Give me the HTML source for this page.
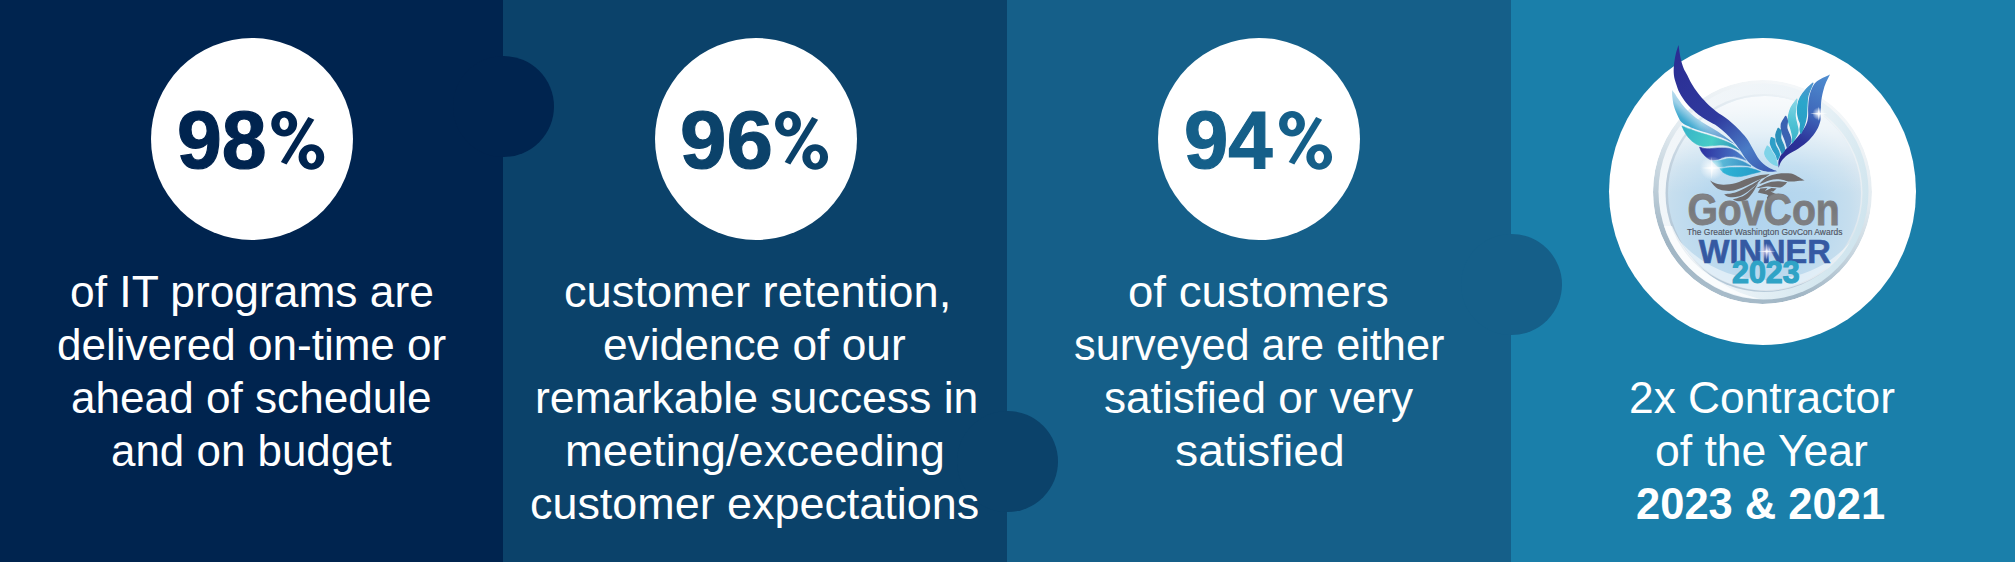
<!DOCTYPE html>
<html lang="en">
<head>
<meta charset="utf-8">
<title>Performance stats</title>
<style>
html,body{margin:0;padding:0;}
body{width:2015px;height:562px;overflow:hidden;position:relative;background:#1a7faa;font-family:"Liberation Sans",sans-serif;}
.panel{position:absolute;top:0;height:562px;}
.p1{left:0;width:503px;background:#00244f;}
.p2{left:503px;width:504px;background:#0b426a;}
.p3{left:1007px;width:503.5px;background:#155f89;}
.p4{left:1510.5px;width:504.5px;background:#1a7faa;}
.tab{position:absolute;width:101px;height:101px;border-radius:50%;}
.t1{left:453px;top:56px;background:#00244f;}
.t2{left:957px;top:411px;background:#0b426a;}
.t3{left:1460.5px;top:233.5px;background:#155f89;}
.disc{position:absolute;background:#fff;border-radius:50%;}
.d1{left:150.9px;top:37.6px;width:202px;height:202px;}
.d2{left:654.5px;top:37.6px;width:202px;height:202px;}
.d3{left:1158px;top:37.6px;width:202px;height:202px;}
.d4{left:1608.9px;top:37.8px;width:307.2px;height:307.2px;}
.pct{position:absolute;font-weight:bold;-webkit-text-stroke:1.2px;font-size:81px;line-height:81px;white-space:nowrap;transform-origin:0 0;}
.ln{position:absolute;color:#fff;font-size:44px;line-height:44px;white-space:nowrap;transform-origin:0 0;}
.ln.b{font-weight:bold;}
</style>
</head>
<body>
<div class="panel p1"></div>
<div class="panel p2"></div>
<div class="panel p3"></div>
<div class="panel p4"></div>
<div class="tab t1"></div>
<div class="tab t2"></div>
<div class="tab t3"></div>
<div class="disc d1"></div>
<div class="disc d2"></div>
<div class="disc d3"></div>
<div class="disc d4"></div>
<div class="pct" id="pct0" style="left:176.81px;top:99.05px;color:#00244f;transform:scale(0.9947,1.0100)">98</div>
<div class="pct" id="pct1" style="left:679.73px;top:99.05px;color:#0b426a;transform:scale(1.0298,1.0100)">96</div>
<div class="pct" id="pct2" style="left:1183.83px;top:99.05px;color:#155f89;transform:scale(0.9830,1.0100)">94</div>
<div class="ln" id="ln0" style="left:70.08px;top:270.00px;transform:scaleX(1.0079)">of IT programs are</div>
<div class="ln" id="ln1" style="left:56.78px;top:323.00px;transform:scaleX(1.0011)">delivered on-time or</div>
<div class="ln" id="ln2" style="left:71.49px;top:376.00px;transform:scaleX(1.0028)">ahead of schedule</div>
<div class="ln" id="ln3" style="left:111.40px;top:429.00px;transform:scaleX(0.9979)">and on budget</div>
<div class="ln" id="ln4" style="left:564.04px;top:270.00px;transform:scaleX(1.0281)">customer retention,</div>
<div class="ln" id="ln5" style="left:603.29px;top:323.00px;transform:scaleX(1.0061)">evidence of our</div>
<div class="ln" id="ln6" style="left:534.55px;top:376.00px;transform:scaleX(1.0130)">remarkable success in</div>
<div class="ln" id="ln7" style="left:564.50px;top:429.00px;transform:scaleX(1.0287)">meeting/exceeding</div>
<div class="ln" id="ln8" style="left:530.45px;top:482.00px;transform:scaleX(1.0202)">customer expectations</div>
<div class="ln" id="ln9" style="left:1127.70px;top:270.00px;transform:scaleX(1.0349)">of customers</div>
<div class="ln" id="ln10" style="left:1073.62px;top:323.00px;transform:scaleX(0.9834)">surveyed are either</div>
<div class="ln" id="ln11" style="left:1103.69px;top:376.00px;transform:scaleX(1.0033)">satisfied or very</div>
<div class="ln" id="ln12" style="left:1174.99px;top:429.00px;transform:scaleX(1.0514)">satisfied</div>
<div class="ln" id="ln13" style="left:1628.98px;top:376.00px;transform:scaleX(1.0069)">2x Contractor</div>
<div class="ln" id="ln14" style="left:1655.27px;top:429.00px;transform:scaleX(1.0116)">of the Year</div>
<div class="ln b" id="ln15" style="left:1636.23px;top:482.00px;transform:scaleX(0.9887)">2023 &amp; 2021</div>
<svg style="position:absolute;left:0;top:0;overflow:visible" width="2015" height="562" viewBox="0 0 2015 562">
<defs>
<g id="pc">
<path fill-rule="evenodd" d="M13 0 A12.95 12.75 0 1 0 13 25.5 A12.95 12.75 0 1 0 13 0 Z M13 6.5 A4.65 6.25 0 1 1 13 19 A4.65 6.25 0 1 1 13 6.5 Z"/>
<path fill-rule="evenodd" d="M40.2 33.2 A12.85 12.8 0 1 0 40.2 58.8 A12.85 12.8 0 1 0 40.2 33.2 Z M40.2 39.7 A4.8 6.35 0 1 1 40.2 52.4 A4.8 6.35 0 1 1 40.2 39.7 Z"/>
<path d="M37.1 6.1 L43.1 8.7 L15.3 53.5 L9.7 51 Z"/>
</g>
</defs>
<use href="#pc" x="271.2" y="111" fill="#00244f"/>
<use href="#pc" x="775.0" y="111" fill="#0b426a"/>
<use href="#pc" x="1279.0" y="111" fill="#155f89"/>
</svg>
<svg class="logo" viewBox="1600 30 330 340" width="330" height="340" style="position:absolute;left:1600px;top:30px;overflow:visible">
<defs>
<clipPath id="bclip"><ellipse cx="1762.5" cy="192" rx="109.5" ry="112"/></clipPath>
<linearGradient id="rim1" gradientUnits="userSpaceOnUse" x1="1805" y1="95" x2="1720" y2="300">
<stop offset="0" stop-color="#f4f7f9"/>
<stop offset="0.35" stop-color="#e3ebf0"/>
<stop offset="0.6" stop-color="#c4d3dd"/>
<stop offset="0.85" stop-color="#a0b5c4"/>
<stop offset="1" stop-color="#a9bdcb"/>
</linearGradient>
<linearGradient id="band" gradientUnits="userSpaceOnUse" x1="1660" y1="150" x2="1870" y2="235">
<stop offset="0" stop-color="#f2f6f9"/>
<stop offset="0.5" stop-color="#eef4f8"/>
<stop offset="0.85" stop-color="#d6e8f0"/>
<stop offset="1" stop-color="#cde3ed"/>
</linearGradient>
<linearGradient id="rim2" gradientUnits="userSpaceOnUse" x1="1835" y1="105" x2="1690" y2="285">
<stop offset="0" stop-color="#f1f5f8"/>
<stop offset="0.4" stop-color="#dde7ee"/>
<stop offset="0.7" stop-color="#bccddb"/>
<stop offset="1" stop-color="#b2c7d7"/>
</linearGradient>
<radialGradient id="bub" cx="0.48" cy="0.6" r="0.55">
<stop offset="0" stop-color="#b1d4ee"/>
<stop offset="0.55" stop-color="#b8d8ee"/>
<stop offset="0.85" stop-color="#c6deee"/>
<stop offset="1" stop-color="#d2e3ef"/>
</radialGradient>
<linearGradient id="topfade" gradientUnits="userSpaceOnUse" x1="1763" y1="96" x2="1763" y2="290">
<stop offset="0" stop-color="#fff" stop-opacity="0.85"/>
<stop offset="0.18" stop-color="#fff" stop-opacity="0.6"/>
<stop offset="0.36" stop-color="#fff" stop-opacity="0.18"/>
<stop offset="0.5" stop-color="#fff" stop-opacity="0"/>
</linearGradient>
<linearGradient id="lw1" gradientUnits="userSpaceOnUse" x1="1678" y1="50" x2="1775" y2="170">
<stop offset="0" stop-color="#2b2d93"/>
<stop offset="0.5" stop-color="#2f3a9e"/>
<stop offset="0.78" stop-color="#4a7cc6"/>
<stop offset="1" stop-color="#3a58b0"/>
</linearGradient>
<linearGradient id="lw2" gradientUnits="userSpaceOnUse" x1="1703" y1="114" x2="1688" y2="132">
<stop offset="0" stop-color="#c2e0f0"/>
<stop offset="0.35" stop-color="#9dd0e8"/>
<stop offset="0.7" stop-color="#49add2"/>
<stop offset="1" stop-color="#239cc6"/>
</linearGradient>
<linearGradient id="lw2b" gradientUnits="userSpaceOnUse" x1="1700" y1="125" x2="1736" y2="146">
<stop offset="0" stop-color="#3f7cc2" stop-opacity="0"/>
<stop offset="1" stop-color="#3f7cc2" stop-opacity="1"/>
</linearGradient>
<linearGradient id="lw3" gradientUnits="userSpaceOnUse" x1="1682" y1="126" x2="1744" y2="152">
<stop offset="0" stop-color="#35b2c8"/>
<stop offset="0.5" stop-color="#48cdc6"/>
<stop offset="1" stop-color="#2a82b6"/>
</linearGradient>
<linearGradient id="lw4" gradientUnits="userSpaceOnUse" x1="1700" y1="150" x2="1748" y2="160">
<stop offset="0" stop-color="#2c30a0"/>
<stop offset="0.45" stop-color="#3c56b4"/>
<stop offset="1" stop-color="#4f8cd0"/>
</linearGradient>
<linearGradient id="lw5" gradientUnits="userSpaceOnUse" x1="1713" y1="163" x2="1754" y2="167">
<stop offset="0" stop-color="#66c6de"/>
<stop offset="1" stop-color="#3088c2"/>
</linearGradient>
<linearGradient id="lw6" gradientUnits="userSpaceOnUse" x1="1721" y1="170" x2="1765" y2="173">
<stop offset="0" stop-color="#2fb4d6"/>
<stop offset="1" stop-color="#2498c6"/>
</linearGradient>
<linearGradient id="rwband" gradientUnits="userSpaceOnUse" x1="1826" y1="76" x2="1782" y2="165">
<stop offset="0" stop-color="#4f8ccf"/>
<stop offset="0.4" stop-color="#3f68ba"/>
<stop offset="0.7" stop-color="#2c3299"/>
<stop offset="1" stop-color="#2a2a90"/>
</linearGradient>
<linearGradient id="rf" gradientUnits="userSpaceOnUse" x1="1812" y1="84" x2="1800" y2="132">
<stop offset="0" stop-color="#4f92cf"/>
<stop offset="0.4" stop-color="#2ba6cb"/>
<stop offset="1" stop-color="#2a9cc4"/>
</linearGradient>
<linearGradient id="re" gradientUnits="userSpaceOnUse" x1="1796" y1="100" x2="1792" y2="142">
<stop offset="0" stop-color="#8ad6e6"/>
<stop offset="0.5" stop-color="#52c4d6"/>
<stop offset="1" stop-color="#37b2c8"/>
</linearGradient>
<radialGradient id="spk2">
<stop offset="0" stop-color="#fff" stop-opacity="0.95"/>
<stop offset="0.35" stop-color="#d9d2f2" stop-opacity="0.6"/>
<stop offset="1" stop-color="#b8b0e8" stop-opacity="0"/>
</radialGradient>
<radialGradient id="spk">
<stop offset="0" stop-color="#fff" stop-opacity="1"/>
<stop offset="0.4" stop-color="#fff" stop-opacity="0.6"/>
<stop offset="1" stop-color="#fff" stop-opacity="0"/>
</radialGradient>
<linearGradient id="gtxt" x1="0" y1="0" x2="0" y2="1">
<stop offset="0" stop-color="#8a8b8e"/>
<stop offset="0.5" stop-color="#77787b"/>
<stop offset="1" stop-color="#858689"/>
</linearGradient>
</defs>
<!-- bubble -->
<g clip-path="url(#bclip)">
<ellipse cx="1762.5" cy="192" rx="109.5" ry="112" fill="url(#rim1)"/>
<ellipse cx="1763.5" cy="191.5" rx="105" ry="108" fill="url(#band)"/>
<ellipse cx="1764" cy="193" rx="98.5" ry="99" fill="url(#rim2)"/>
<ellipse cx="1764.5" cy="193" rx="96.5" ry="97" fill="url(#bub)"/>
<ellipse cx="1764.5" cy="193" rx="96.5" ry="97" fill="url(#topfade)"/>
<path d="M1679 240 C1694 270 1728 290 1766 291 C1800 290 1834 272 1850 242 C1830 266 1800 279 1766 280 C1732 279 1702 266 1679 240 Z" fill="#fff" opacity="0.5"/>
<path d="M1664 226 C1676 266 1714 296 1760 299 C1722 290 1690 266 1672 226 Z" fill="#fff" opacity="0.7"/>
</g>
<!-- left wing -->
<path d="M1678.5 45.0 C1678.9 47.2 1679.9 54.7 1680.7 58.5 C1681.5 62.3 1682.4 65.2 1683.5 68.0 C1684.6 70.8 1685.9 72.4 1687.2 75.0 C1688.5 77.6 1689.7 80.5 1691.5 83.5 C1693.3 86.5 1695.4 89.9 1697.9 93.1 C1700.4 96.3 1703.4 99.8 1706.4 102.8 C1709.4 105.8 1712.3 108.4 1716.0 111.3 C1719.7 114.2 1724.9 117.1 1728.5 120.0 C1732.1 122.9 1734.8 125.5 1737.8 128.5 C1740.8 131.5 1743.9 134.7 1746.4 138.1 C1748.9 141.5 1750.7 145.2 1752.8 148.8 C1754.9 152.4 1756.7 156.5 1759.2 159.5 C1761.7 162.5 1764.7 165.0 1767.7 167.0 C1770.8 169.0 1775.9 170.6 1777.5 171.3 C1776.2 171.4 1772.5 172.0 1769.8 171.8 C1767.1 171.6 1764.1 171.2 1761.3 170.2 C1758.5 169.2 1755.3 167.7 1752.8 165.9 C1750.3 164.1 1748.6 162.2 1746.4 159.5 C1744.2 156.8 1742.2 153.1 1739.9 149.9 C1737.6 146.7 1734.8 143.0 1732.5 140.3 C1730.2 137.6 1728.5 135.8 1726.0 133.5 C1723.5 131.2 1720.8 128.6 1717.7 126.4 C1714.6 124.2 1711.0 122.8 1707.3 120.5 C1703.6 118.2 1699.3 115.4 1695.8 112.4 C1692.3 109.5 1688.8 106.0 1686.1 102.8 C1683.4 99.6 1681.4 96.3 1679.7 93.1 C1678.0 89.9 1677.0 86.5 1676.0 83.5 C1675.0 80.5 1674.2 78.0 1673.9 75.0 C1673.6 72.0 1673.6 69.1 1673.9 65.6 C1674.2 62.1 1674.9 57.6 1675.7 54.2 C1676.5 50.8 1678.0 46.5 1678.5 45.0 Z" fill="url(#lw1)"/>
<path d="M1672.1 89.9 C1672.5 90.4 1673.3 91.5 1674.4 93.1 C1675.5 94.7 1676.9 97.1 1678.7 99.6 C1680.5 102.1 1682.6 105.3 1685.1 108.1 C1687.6 110.8 1690.4 113.5 1693.6 116.1 C1696.8 118.7 1700.6 121.2 1704.3 123.6 C1708.0 126.0 1712.5 128.3 1716.0 130.5 C1719.5 132.7 1722.2 134.7 1725.5 137.0 C1728.8 139.3 1733.8 143.3 1735.5 144.6 C1733.4 143.5 1726.8 139.8 1723.0 138.1 C1719.2 136.4 1716.0 135.6 1712.4 134.4 C1708.9 133.2 1705.3 132.3 1701.7 131.2 C1698.1 130.0 1694.3 128.9 1691.0 127.5 C1687.7 126.1 1684.1 124.6 1681.9 122.6 C1679.7 120.6 1678.9 118.4 1677.6 115.6 C1676.3 112.8 1674.8 109.2 1673.9 106.0 C1673.0 102.8 1672.6 99.1 1672.3 96.4 C1672.0 93.7 1672.1 91.0 1672.1 89.9 Z" fill="url(#lw2)"/>
<path d="M1672.1 89.9 C1672.5 90.4 1673.3 91.5 1674.4 93.1 C1675.5 94.7 1676.9 97.1 1678.7 99.6 C1680.5 102.1 1682.6 105.3 1685.1 108.1 C1687.6 110.8 1690.4 113.5 1693.6 116.1 C1696.8 118.7 1700.6 121.2 1704.3 123.6 C1708.0 126.0 1712.5 128.3 1716.0 130.5 C1719.5 132.7 1722.2 134.7 1725.5 137.0 C1728.8 139.3 1733.8 143.3 1735.5 144.6 C1733.4 143.5 1726.8 139.8 1723.0 138.1 C1719.2 136.4 1716.0 135.6 1712.4 134.4 C1708.9 133.2 1705.3 132.3 1701.7 131.2 C1698.1 130.0 1694.3 128.9 1691.0 127.5 C1687.7 126.1 1684.1 124.6 1681.9 122.6 C1679.7 120.6 1678.9 118.4 1677.6 115.6 C1676.3 112.8 1674.8 109.2 1673.9 106.0 C1673.0 102.8 1672.6 99.1 1672.3 96.4 C1672.0 93.7 1672.1 91.0 1672.1 89.9 Z" fill="url(#lw2b)"/>
<path d="M1681.9 125.9 C1683.4 126.5 1687.7 128.4 1691.0 129.6 C1694.3 130.8 1698.1 132.2 1701.7 133.3 C1705.3 134.5 1708.9 135.3 1712.4 136.5 C1716.0 137.7 1719.7 139.0 1723.0 140.3 C1726.3 141.7 1729.8 142.9 1732.5 144.6 C1735.2 146.2 1738.2 149.3 1739.3 150.2 C1737.8 149.6 1733.2 147.5 1730.5 146.7 C1727.8 145.8 1726.0 145.3 1723.0 145.1 C1720.0 144.9 1715.8 145.4 1712.4 145.6 C1709.0 145.8 1705.7 146.5 1702.8 146.2 C1699.9 145.8 1697.6 144.8 1695.3 143.5 C1693.0 142.2 1690.7 140.1 1688.9 138.1 C1687.1 136.1 1685.8 133.7 1684.6 131.7 C1683.4 129.7 1682.4 126.9 1681.9 125.9 Z" fill="url(#lw3)" stroke="url(#lw3)" stroke-width="0.6" stroke-linejoin="round"/>
<path d="M1699.6 147.2 C1700.8 147.5 1704.0 148.7 1707.0 148.8 C1710.0 148.9 1714.1 148.1 1717.7 148.0 C1721.3 147.9 1725.5 147.8 1728.4 148.3 C1731.3 148.8 1732.9 149.7 1735.0 150.8 C1737.1 152.0 1739.2 153.6 1741.0 155.2 C1742.8 156.8 1745.2 159.5 1746.0 160.3 C1745.2 160.0 1743.1 159.0 1741.0 158.4 C1738.9 157.8 1736.1 156.9 1733.5 156.6 C1730.9 156.3 1727.8 156.3 1725.2 156.8 C1722.6 157.3 1720.0 159.0 1717.7 159.5 C1715.4 160.0 1713.2 160.4 1711.3 160.0 C1709.3 159.6 1707.6 158.1 1706.0 156.8 C1704.4 155.5 1702.8 153.6 1701.7 152.0 C1700.6 150.4 1699.9 148.0 1699.6 147.2 Z" fill="url(#lw4)" stroke="url(#lw4)" stroke-width="0.6" stroke-linejoin="round"/>
<path d="M1712.4 161.1 C1713.6 161.0 1717.1 161.0 1719.8 160.6 C1722.5 160.2 1725.8 158.8 1728.4 158.6 C1731.1 158.4 1733.1 158.7 1735.7 159.3 C1738.3 159.9 1741.7 161.0 1744.2 162.2 C1746.8 163.3 1749.9 165.5 1751.0 166.2 C1749.9 166.1 1746.8 165.6 1744.2 165.4 C1741.7 165.2 1738.3 165.2 1735.7 165.3 C1733.1 165.4 1731.1 165.5 1728.4 165.8 C1725.8 166.1 1721.9 167.2 1719.8 167.0 C1717.7 166.8 1716.8 165.8 1715.6 164.8 C1714.4 163.8 1712.9 161.7 1712.4 161.1 Z" fill="url(#lw5)" stroke="url(#lw5)" stroke-width="0.6" stroke-linejoin="round"/>
<path d="M1719.8 168.6 C1721.2 168.4 1725.8 167.9 1728.4 167.7 C1731.1 167.5 1732.7 167.6 1735.7 167.6 C1738.7 167.6 1743.2 167.2 1746.4 167.5 C1749.6 167.8 1752.6 168.9 1754.9 169.6 C1757.2 170.3 1759.6 171.3 1760.5 171.7 C1758.7 172.1 1753.0 173.6 1749.6 174.4 C1746.2 175.2 1742.6 176.3 1739.9 176.6 C1737.2 176.9 1735.4 176.6 1733.5 176.3 C1731.6 176.0 1730.2 175.7 1728.4 175.0 C1726.7 174.3 1724.4 173.4 1723.0 172.3 C1721.6 171.2 1720.3 169.2 1719.8 168.6 Z" fill="url(#lw6)" stroke="url(#lw6)" stroke-width="0.6" stroke-linejoin="round"/>
<!-- right wing -->
<path d="M1830.0 74.4 C1829.4 75.7 1827.4 79.2 1826.2 82.1 C1825.0 85.0 1823.8 88.3 1823.0 91.7 C1822.2 95.1 1821.4 98.9 1821.1 102.4 C1820.8 106.0 1821.0 110.0 1820.9 113.0 C1820.8 116.0 1821.1 117.8 1820.4 120.7 C1819.7 123.6 1818.5 127.1 1816.6 130.3 C1814.7 133.5 1812.2 136.9 1809.2 139.9 C1806.2 142.9 1802.1 145.9 1798.5 148.4 C1794.9 150.9 1790.6 152.7 1787.8 154.8 C1785.0 156.9 1782.9 159.0 1781.4 161.2 C1779.9 163.4 1779.1 166.7 1778.6 167.8 C1778.6 166.5 1778.0 162.7 1778.7 160.2 C1779.4 157.7 1780.5 155.4 1782.5 152.7 C1784.5 150.0 1788.2 147.2 1791.0 144.2 C1793.8 141.2 1797.1 137.8 1799.6 134.6 C1802.1 131.4 1804.6 127.9 1806.0 124.9 C1807.4 121.9 1807.8 119.3 1808.1 116.4 C1808.4 113.5 1807.9 110.9 1808.1 107.7 C1808.3 104.5 1808.6 100.2 1809.2 97.0 C1809.8 93.8 1810.7 90.9 1811.8 88.5 C1812.9 86.1 1813.9 84.3 1815.6 82.6 C1817.3 80.9 1819.6 79.7 1822.0 78.3 C1824.4 76.9 1828.7 75.1 1830.0 74.4 Z" fill="url(#rwband)"/>
<path d="M1812.9 83.1 C1812.5 84.2 1811.1 87.3 1810.2 89.6 C1809.3 91.9 1808.2 94.0 1807.6 97.0 C1807.0 100.0 1807.0 104.5 1806.8 107.7 C1806.6 110.9 1806.7 113.5 1806.3 116.4 C1805.9 119.3 1805.3 122.1 1804.4 124.9 C1803.5 127.7 1801.6 131.8 1801.0 133.2 C1800.8 132.6 1800.2 131.1 1800.1 129.5 C1800.0 128.0 1800.8 125.6 1800.6 123.9 C1800.4 122.2 1799.5 121.3 1799.0 119.5 C1798.5 117.7 1797.8 115.5 1797.6 113.0 C1797.4 110.5 1797.5 107.2 1798.0 104.5 C1798.5 101.8 1799.3 99.5 1800.6 97.0 C1801.9 94.5 1804.0 91.9 1806.0 89.6 C1808.0 87.3 1811.8 84.2 1812.9 83.1 Z" fill="url(#rf)" stroke="url(#rf)" stroke-width="1.3" stroke-linejoin="round"/>
<path d="M1796.9 99.2 C1796.7 100.6 1796.1 104.9 1795.8 107.7 C1795.5 110.5 1794.9 113.2 1795.1 116.2 C1795.3 119.2 1796.8 123.3 1797.2 126.0 C1797.7 128.7 1798.6 129.7 1797.8 132.5 C1797.0 135.3 1793.2 140.9 1792.3 142.6 C1792.3 141.6 1792.8 138.9 1792.6 136.7 C1792.4 134.5 1791.7 131.6 1791.0 129.2 C1790.3 126.7 1789.1 124.2 1788.7 122.0 C1788.3 119.8 1788.1 118.6 1788.5 116.2 C1788.9 113.8 1789.6 110.5 1791.0 107.7 C1792.4 104.9 1795.9 100.6 1796.9 99.2 Z" fill="url(#re)" stroke="url(#re)" stroke-width="1.3" stroke-linejoin="round"/>
<path d="M1785.7 116.4 C1786.0 117.1 1787.1 118.8 1787.3 120.7 C1787.5 122.7 1786.3 125.6 1786.7 128.1 C1787.1 130.6 1789.0 133.4 1789.7 135.6 C1790.4 137.8 1791.2 139.5 1790.8 141.5 C1790.4 143.5 1788.0 146.6 1787.5 147.6 C1787.1 146.3 1786.0 142.6 1785.1 139.9 C1784.2 137.2 1782.5 134.1 1781.9 131.4 C1781.3 128.7 1780.8 126.4 1781.4 123.9 C1782.0 121.4 1785.0 117.7 1785.7 116.4 Z" fill="#3a62b2" stroke="#3a62b2" stroke-width="1.4" stroke-linejoin="round"/>
<path d="M1778.2 128.3 C1778.7 128.8 1780.5 129.3 1780.9 131.0 C1781.3 132.7 1780.2 136.1 1780.7 138.5 C1781.2 140.9 1783.0 143.6 1783.6 145.5 C1784.2 147.4 1784.7 148.9 1784.4 150.2 C1784.1 151.5 1782.4 152.7 1782.0 153.2 C1781.6 152.3 1780.7 149.9 1779.8 148.0 C1778.9 146.1 1777.4 143.7 1776.8 141.5 C1776.2 139.3 1775.7 136.8 1775.9 134.6 C1776.1 132.4 1777.8 129.4 1778.2 128.3 Z" fill="#2a8fb9" stroke="#2a8fb9" stroke-width="1.3" stroke-linejoin="round"/>
<path d="M1771.3 137.6 C1771.8 137.9 1773.9 138.0 1774.6 139.2 C1775.2 140.4 1774.6 142.6 1775.2 144.6 C1775.8 146.6 1777.7 149.2 1778.4 151.0 C1779.1 152.8 1779.6 153.8 1779.4 155.2 C1779.2 156.6 1777.8 158.8 1777.5 159.5 C1777.3 158.8 1777.0 156.8 1776.2 155.2 C1775.5 153.6 1774.0 151.8 1773.0 149.9 C1772.0 148.0 1770.7 145.6 1770.4 143.5 C1770.1 141.4 1771.2 138.6 1771.3 137.6 Z" fill="#2d9fc8" stroke="#2d9fc8" stroke-width="1.2" stroke-linejoin="round"/>
<path d="M1767.3 146.0 C1767.7 146.3 1768.8 147.0 1769.6 148.0 C1770.4 149.0 1771.1 150.4 1772.0 152.0 C1772.9 153.6 1774.5 155.7 1775.2 157.4 C1775.9 159.1 1776.0 160.6 1776.4 162.0 C1776.8 163.4 1777.3 165.0 1777.5 165.6 C1776.9 165.4 1775.3 165.2 1774.0 164.5 C1772.7 163.8 1771.2 163.0 1769.8 161.6 C1768.4 160.2 1766.4 157.9 1765.6 156.3 C1764.8 154.7 1764.5 153.7 1764.8 152.0 C1765.1 150.3 1766.9 147.0 1767.3 146.0 Z" fill="#7fd3e8" stroke="#7fd3e8" stroke-width="1.2" stroke-linejoin="round"/>
<!-- eagle -->
<g fill="#6f6c6d">
<path d="M1710.0 180.6 C1711.0 181.1 1713.7 182.9 1716.0 183.6 C1718.3 184.3 1720.7 184.8 1724.0 184.7 C1727.3 184.6 1732.0 184.0 1736.0 183.0 C1740.0 182.0 1743.9 179.9 1748.0 178.6 C1752.1 177.3 1757.2 175.7 1760.8 175.0 C1764.4 174.3 1768.2 174.3 1769.7 174.2 C1768.8 174.8 1766.3 176.7 1764.0 177.8 C1761.7 178.9 1759.2 179.5 1756.0 181.0 C1752.8 182.5 1748.5 185.0 1744.8 186.6 C1741.1 188.2 1737.1 189.9 1733.6 190.6 C1730.1 191.3 1726.9 191.1 1724.0 190.6 C1721.1 190.1 1718.3 189.1 1716.0 187.4 C1713.7 185.7 1711.0 181.7 1710.0 180.6 Z"/>
<path d="M1724.0 194.2 C1726.0 193.9 1732.0 193.5 1736.0 192.2 C1740.0 190.9 1744.7 188.3 1748.0 186.6 C1751.3 184.9 1753.8 183.3 1756.0 182.0 C1758.2 180.7 1760.6 179.3 1761.5 178.8 C1760.6 179.8 1758.2 182.7 1756.0 184.8 C1753.8 186.9 1750.9 189.4 1748.0 191.4 C1745.1 193.4 1741.6 195.7 1738.4 196.6 C1735.2 197.5 1731.2 197.4 1728.8 197.0 C1726.4 196.6 1724.8 194.7 1724.0 194.2 Z"/>
<path d="M1732.8 199.4 C1734.7 198.7 1740.8 197.1 1744.0 195.4 C1747.2 193.7 1749.9 190.8 1752.0 189.0 C1754.1 187.2 1755.5 185.5 1756.5 184.5 C1757.5 183.5 1758.0 183.1 1758.3 182.8 C1757.4 184.4 1754.8 189.6 1752.8 192.4 C1750.8 195.2 1748.8 197.9 1746.4 199.4 C1744.0 200.9 1740.7 201.2 1738.4 201.2 C1736.1 201.2 1733.7 199.7 1732.8 199.4 Z"/>
<path d="M1759.2 184.1 C1760.1 183.2 1762.8 180.0 1764.8 178.5 C1766.8 177.0 1768.7 176.1 1771.4 175.2 C1774.1 174.3 1777.9 173.6 1781.2 173.3 C1784.5 173.0 1788.3 173.1 1791.1 173.6 C1793.8 174.1 1795.5 175.4 1797.7 176.6 C1800.0 177.8 1803.4 179.8 1804.6 180.5 C1803.4 180.6 1800.0 180.7 1797.7 180.9 C1795.5 181.1 1792.8 181.6 1791.1 181.6 C1789.3 181.6 1788.5 181.5 1787.2 181.2 C1785.9 180.9 1785.0 180.2 1783.2 179.9 C1781.4 179.6 1778.8 179.1 1776.6 179.2 C1774.4 179.2 1772.1 179.6 1770.0 180.2 C1767.9 180.8 1765.9 181.8 1764.1 182.5 C1762.3 183.2 1760.0 183.8 1759.2 184.1 Z"/>
<path d="M1756.5 188.1 C1757.7 187.5 1760.9 185.6 1763.4 184.5 C1765.9 183.4 1768.8 182.4 1771.4 181.8 C1774.1 181.2 1776.7 181.1 1779.3 181.2 C1781.9 181.3 1785.9 182.0 1787.2 182.2 C1786.8 182.7 1785.6 184.2 1784.5 185.1 C1783.4 186.0 1782.3 187.1 1780.6 187.4 C1778.8 187.7 1776.3 187.3 1774.0 187.1 C1771.7 186.9 1768.8 186.3 1766.7 186.4 C1764.6 186.5 1763.2 187.1 1761.5 187.4 C1759.8 187.7 1757.3 188.0 1756.5 188.1 Z"/>
<path d="M1757.8 192.4 L1760.2 188.6 L1767.4 187.9 L1764.9 191 L1771.4 188 L1776.6 188.4 L1773.3 191.4 L1770.5 191.6 L1776 194 L1779.3 195.7 L1777.5 196.6 L1774 195.2 L1770.5 196.6 L1775.5 198.6 L1776.6 199.6 L1771.5 199.4 L1767.6 202.3 L1766.9 197.6 L1768.3 195.6 L1766.7 194.4 L1762.1 193.4 Z"/>
</g>
<!-- sparkles -->
<circle cx="1711.8" cy="168" r="12" fill="url(#spk)"/>
<path d="M1711.8 157 L1712.7 167.1 L1722 168 L1712.7 168.9 L1711.8 179 L1710.9 168.9 L1701.5 168 L1710.9 167.1 Z" fill="#fff" opacity="0.7"/>
<circle cx="1818.8" cy="113.7" r="6.5" fill="url(#spk)"/>
<path d="M1818.8 106.5 L1819.5 113 L1827.5 113.7 L1819.5 114.4 L1818.8 121 L1818.1 114.4 L1810 113.7 L1818.1 113 Z" fill="#fff" opacity="0.9"/>
<!-- text -->
<g font-family="Liberation Sans, sans-serif" font-weight="bold">
<text id="tg" x="1687.4" y="224.5" font-size="44.3" fill="url(#gtxt)" stroke="#7d7e81" stroke-width="0.9" textLength="152.4" lengthAdjust="spacingAndGlyphs">GovCon</text>
<text id="tt" x="1686.9" y="235.3" font-size="8.6" font-weight="normal" fill="#505562" stroke="#505562" stroke-width="0.15" textLength="155.5" lengthAdjust="spacingAndGlyphs">The Greater Washington GovCon Awards</text>
<text id="tw" x="1698.7" y="262.6" font-size="33.2" fill="#3559a2" stroke="#3559a2" stroke-width="0.6" textLength="132" lengthAdjust="spacingAndGlyphs">WINNER</text>
<text id="ty" x="1732" y="282.8" font-size="31.9" fill="#2fa3c6" stroke="#2fa3c6" stroke-width="1.2" textLength="67.6" lengthAdjust="spacingAndGlyphs">2023</text>
</g>
<circle cx="1766.8" cy="251.4" r="8" fill="url(#spk2)"/>
<path d="M1766.8 243 L1767.4 250.8 L1776 251.4 L1767.4 252 L1766.8 260 L1766.2 252 L1757.5 251.4 L1766.2 250.8 Z" fill="#fff" opacity="0.75"/>
</svg>
</body>
</html>
